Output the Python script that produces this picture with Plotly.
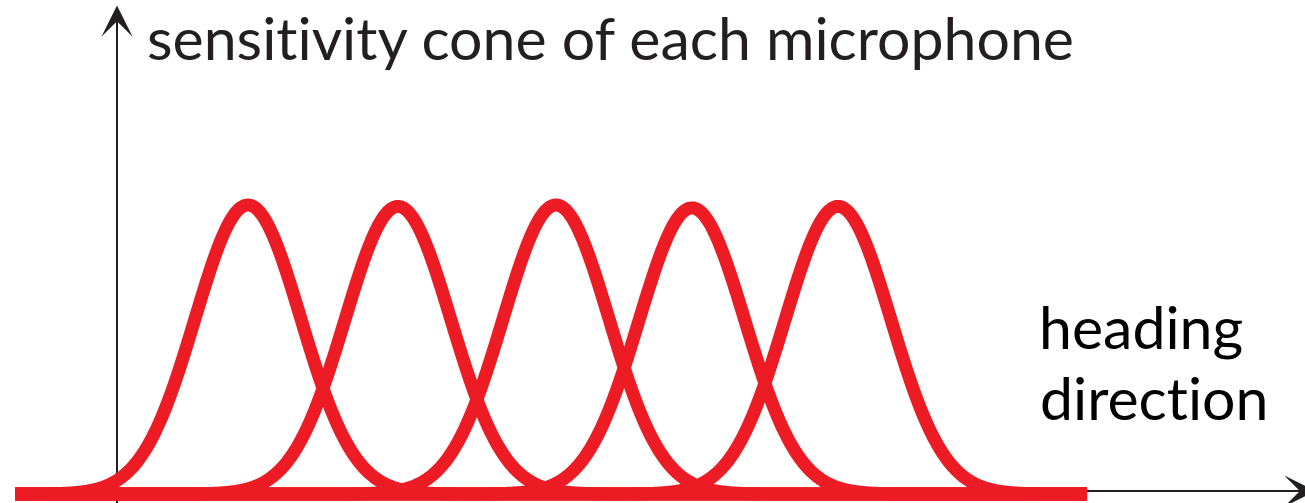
import numpy as np
import plotly.graph_objects as go

# Heading positions of each microphone's peak sensitivity (arbitrary heading units,
# origin at the vertical axis) and their relative peak sensitivities
mic_centers = [0.873, 1.873, 2.927, 3.833, 4.807]
mic_peaks = [1.0, 0.995, 1.0, 0.99, 0.995]
cone_width = 0.353  # standard deviation of each sensitivity cone

# Extent of the drawn heading range
heading_start = -0.68
heading_end = 6.467

RED = "#ED1C24"
INK = "#231F20"
FONT = "Lato"
ZWNJ = "\u200c"  # keeps "t" and "i" as separate glyphs

x_range = [-0.78, 7.92]
y_range = [-0.0311, 1.7093]

heading = np.linspace(heading_start, heading_end, 1200)

fig = go.Figure()

# Shared zero-sensitivity baseline
fig.add_trace(go.Scatter(
    x=[heading_start, heading_end], y=[0, 0], mode="lines",
    line=dict(color=RED, width=13), hoverinfo="skip", showlegend=False,
))

# One Gaussian sensitivity cone per microphone
for c, a in zip(mic_centers, mic_peaks):
    fig.add_trace(go.Scatter(
        x=heading, y=a * np.exp(-0.5 * ((heading - c) / cone_width) ** 2),
        mode="lines", line=dict(color=RED, width=13, shape="spline"),
        hoverinfo="skip", showlegend=False,
    ))

# Axis lines (beneath the curves)
axis_y0 = 0.0104
fig.add_shape(type="line", x0=0, x1=7.8, y0=axis_y0, y1=axis_y0,
              line=dict(color=INK, width=2), layer="below")
fig.add_shape(type="line", x0=0, x1=0, y0=y_range[0], y1=1.6,
              line=dict(color=INK, width=2), layer="below")

# Arrow heads at the axis ends
fig.add_annotation(x=7.99, y=axis_y0, ax=7.2, ay=axis_y0, xref="x", yref="y",
                   axref="x", ayref="y", text="", showarrow=True, arrowhead=3,
                   arrowsize=2.6, arrowwidth=2, arrowcolor=INK)
fig.add_annotation(x=0, y=1.69, ax=0, ay=1.2, xref="x", yref="y",
                   axref="x", ayref="y", text="", showarrow=True, arrowhead=3,
                   arrowsize=2.6, arrowwidth=2, arrowcolor=INK)

# Axis titles
title_text = "sensitivity cone of each microphone".replace("ti", "t" + ZWNJ + "i")
fig.add_annotation(x=0.19, y=1.578, xref="x", yref="y", text=title_text,
                   showarrow=False, xanchor="left", yanchor="middle", borderpad=0,
                   font=dict(family=FONT, size=59, color=INK))
fig.add_annotation(x=6.13, y=0.58, xref="x", yref="y", text="heading",
                   showarrow=False, xanchor="left", yanchor="middle",
                   font=dict(family=FONT, size=59, color="#000000"))
fig.add_annotation(x=6.14, y=0.335, xref="x", yref="y",
                   text="direction".replace("ti", "t" + ZWNJ + "i"),
                   showarrow=False, xanchor="left", yanchor="middle",
                   font=dict(family=FONT, size=59, color="#000000"))

fig.update_layout(
    width=1305, height=503, autosize=False,
    margin=dict(l=0, r=0, t=0, b=0, pad=0),
    paper_bgcolor="white", plot_bgcolor="white",
    xaxis=dict(range=x_range, visible=False, fixedrange=True),
    yaxis=dict(range=y_range, visible=False, fixedrange=True),
    showlegend=False,
)

fig.write_html("out.html", config=dict(displayModeBar=False))
